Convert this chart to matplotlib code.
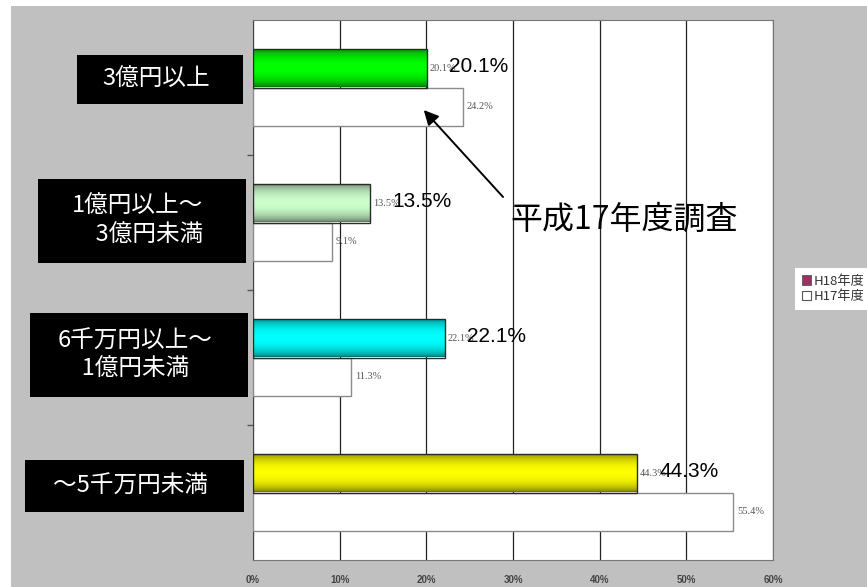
import numpy as np
import matplotlib
matplotlib.use("Agg")
import matplotlib.pyplot as plt
import matplotlib.colors as mcolors
from matplotlib.patches import Rectangle, Patch

# ---- data ----
categories = ['3億円以上', '1億円以上～\n\u30003億円未満', '6千万円以上～\n\u30001億円未満', '～5千万円未満']
h18_values = [20.1, 13.5, 22.1, 44.3]
h17_values = [24.2, 9.1, 11.3, 55.4]
h18_colors = ['#00ff00', '#ccffcc', '#00ffff', '#ffff00']
series_names = ['H18年度', 'H17年度']
xticks = [0, 10, 20, 30, 40, 50, 60]
xtick_labels = ['0%', '10%', '20%', '30%', '40%', '50%', '60%']
note_text = '平成17年度調査'

W, H = 867, 587
fig = plt.figure(figsize=(W / 100, H / 100), dpi=100)
fig.patch.set_facecolor('#c0c0c0')

def fx(px):
    return px / W

def fy(py):
    return 1 - py / H

# white margins of the original slide
fig.patches.append(Rectangle((0, fy(6)), 1, 6 / H, transform=fig.transFigure,
                             facecolor='white', edgecolor='none', zorder=0))
fig.patches.append(Rectangle((0, 0), 11 / W, 1, transform=fig.transFigure,
                             facecolor='white', edgecolor='none', zorder=0))

ax = fig.add_axes([fx(253), fy(560), fx(773) - fx(253), fy(20) - fy(560)])
ax.set_facecolor('white')

n = len(categories)
y = np.arange(n)
bh = 0.287
y18 = y - bh / 2
y17 = y + bh / 2

bars17 = ax.barh(y17, h17_values, height=bh, color='white', edgecolor='#8a8a8a',
                 linewidth=1.0, zorder=3)
bars18 = ax.barh(y18, h18_values, height=bh, color='none', edgecolor='#2a2a2a',
                 linewidth=1.0, zorder=4)

# gradient fill for H18 bars
t = np.linspace(0, 1, 80)
prof = 0.42 + 0.58 * np.sin(np.pi * t) ** 0.55
for bar, col in zip(bars18, h18_colors):
    rgb = np.array(mcolors.to_rgb(col))
    img = (prof[:, None] * rgb[None, :])[:, None, :]
    x0, y0 = bar.get_x(), bar.get_y()
    w, h = bar.get_width(), bar.get_height()
    im = ax.imshow(img, extent=(x0, x0 + w, y0 + h, y0), aspect='auto',
                   origin='upper', zorder=3.5, interpolation='bilinear')
    im.set_clip_path(bar)

ax.set_xlim(0, 60)
ax.set_ylim(n - 0.5, -0.5)

ax.set_xticks(xticks)
ax.set_xticklabels(xtick_labels, fontsize=7, color='#444444',
                   family=['Liberation Sans', 'DejaVu Sans'], fontweight='bold')
ax.tick_params(axis='x', length=0, pad=11)
ax.set_yticks(np.arange(n - 1) + 0.5)
ax.set_yticklabels([])
ax.tick_params(axis='y', length=4, width=1, color='#555555', direction='out')

ax.grid(axis='x', color='#222222', linewidth=0.9, zorder=1)
ax.set_axisbelow(True)
for s in ['top', 'right', 'bottom']:
    ax.spines[s].set_color('#777777')
ax.spines['left'].set_color('#444444')

# small serif labels
for bar, v in zip(bars18, h18_values):
    ax.annotate(f'{v:.1f}%', (bar.get_width(), bar.get_y() + bar.get_height() / 2),
                xytext=(2, 0), textcoords='offset points', ha='left', va='center',
                fontsize=7.5, color='#555555', family=['Liberation Serif', 'DejaVu Serif'],
                zorder=5)
for bar, v in zip(bars17, h17_values):
    ax.annotate(f'{v:.1f}%', (bar.get_width(), bar.get_y() + bar.get_height() / 2),
                xytext=(3, 0), textcoords='offset points', ha='left', va='center',
                fontsize=7.5, color='#555555', family=['Liberation Serif', 'DejaVu Serif'],
                zorder=5)
# big black labels for H18
for bar, v in zip(bars18, h18_values):
    ax.annotate(f'{v:.1f}%', (bar.get_width(), bar.get_y() + bar.get_height() / 2),
                xytext=(16, 1), textcoords='offset points', ha='left', va='center',
                fontsize=15, color='black', family=['Liberation Sans', 'DejaVu Sans'],
                zorder=6)

# annotation arrow + note
ax.annotate('', xy=(19.7, 0.167), xytext=(28.85, 0.811),
            arrowprops=dict(arrowstyle='-|>', color='black', lw=1.4,
                            mutation_scale=22, shrinkA=0, shrinkB=0), zorder=7)
ax.text(42.8, 0.98, note_text, ha='center', va='center', fontsize=23,
        family=['Noto Sans CJK JP', 'DejaVu Sans'], color='black', zorder=7)

# category label boxes (left side)
boxes = [(77, 243, 55, 104), (38, 246, 179, 263), (30, 248, 313, 397), (25, 244, 460, 512)]
for (x0, x1, y0, y1), lab in zip(boxes, categories):
    fig.patches.append(Rectangle((fx(x0), fy(y1)), fx(x1) - fx(x0), fy(y0) - fy(y1),
                                 transform=fig.transFigure, facecolor='black',
                                 edgecolor='none', zorder=2))
    fig.text(fx((x0 + x1) / 2 - 4), fy((y0 + y1) / 2), lab, ha='center', va='center',
             multialignment='left', fontsize=17, color='white', linespacing=1.3,
             family=['Noto Sans CJK JP', 'DejaVu Sans'], zorder=3)

# legend
handles = [Patch(facecolor='#993366', edgecolor='#555555', linewidth=0.6),
           Patch(facecolor='white', edgecolor='#555555', linewidth=0.8)]
leg = fig.legend(handles, series_names, loc='upper left',
                 bbox_to_anchor=(fx(795), fy(268)), frameon=True, fancybox=False,
                 edgecolor='none', facecolor='white', framealpha=1,
                 handlelength=0.7, handleheight=0.7, handletextpad=0.2,
                 borderpad=0.5, labelspacing=0.2, borderaxespad=0,
                 prop={'family': ['Noto Sans CJK JP', 'DejaVu Sans'], 'size': 9.5})
for txt in leg.get_texts():
    txt.set_color('#333333')

fig.savefig('out.png', dpi=100, facecolor=fig.get_facecolor())
